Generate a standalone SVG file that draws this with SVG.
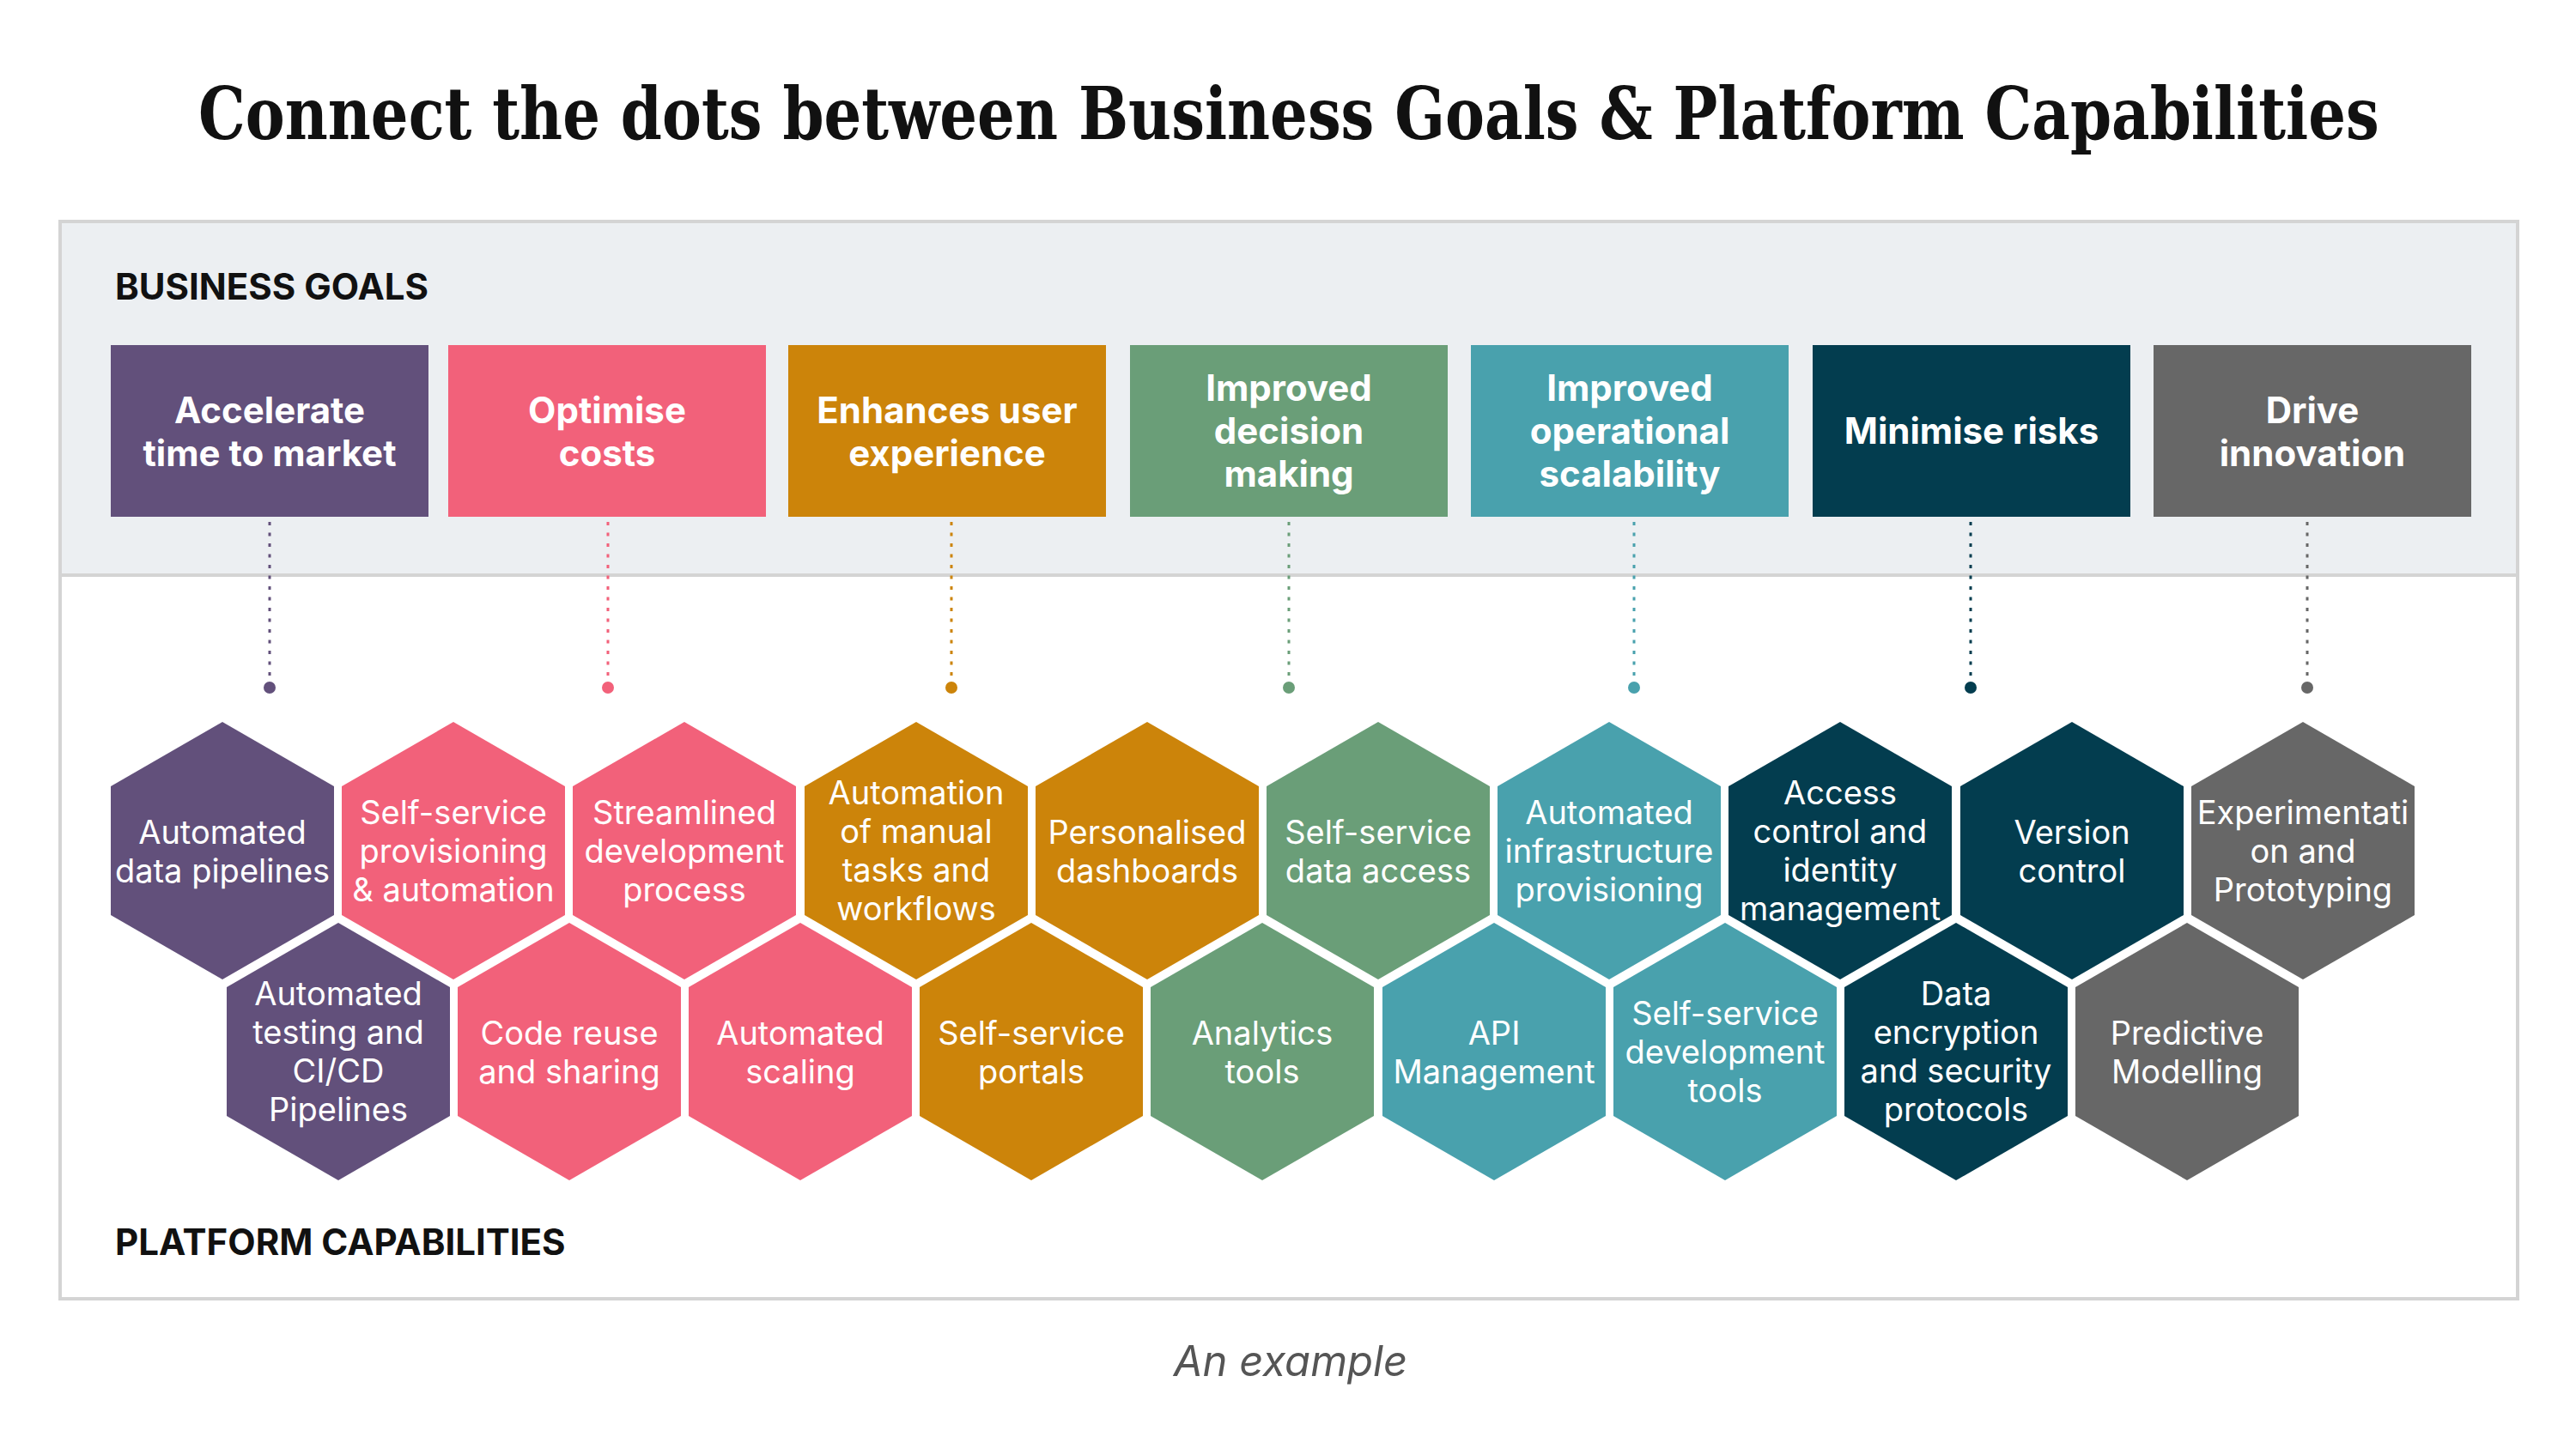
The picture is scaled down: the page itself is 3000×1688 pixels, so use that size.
<svg xmlns="http://www.w3.org/2000/svg" xmlns:xlink="http://www.w3.org/1999/xlink" width="3000" height="1688" viewBox="0 0 3000 1688">
<style>
.title{font-family:"DejaVu Serif","Liberation Serif",serif;font-stretch:condensed;font-weight:700;font-size:84px;fill:#111}
.sec{font-family:Inter,"Liberation Sans",sans-serif;font-weight:700;font-size:42px;fill:#111}
.goal{font-family:Inter,"Liberation Sans",sans-serif;font-weight:700;font-size:42px;fill:#fff;text-anchor:middle}
.cap{font-family:Inter,"Liberation Sans",sans-serif;font-weight:400;font-size:38px;fill:#fff;text-anchor:middle}
.note{font-family:Inter,"Liberation Sans",sans-serif;font-style:italic;font-size:49px;fill:#555;text-anchor:middle}
.c1{fill:#62507B}.c2{fill:#F2617A}.c3{fill:#CC840A}.c4{fill:#6A9E78}.c5{fill:#49A1AD}.c6{fill:#033D4F}.c7{fill:#676767}
.s1{stroke:#62507B}.s2{stroke:#F2617A}.s3{stroke:#CC840A}.s4{stroke:#6A9E78}.s5{stroke:#49A1AD}.s6{stroke:#033D4F}.s7{stroke:#676767}
.dl{stroke-width:3;stroke-dasharray:4 8.5;fill:none}
</style>
<defs>
<path id="hex" d="M0,-150 L130,-75 L130,75 L0,150 L-130,75 L-130,-75 Z"/>
</defs>
<rect width="3000" height="1688" fill="#fff"/>
<text class="title" transform="translate(231,162) scale(0.78,1)" x="0" y="0" textLength="3256" lengthAdjust="spacingAndGlyphs">Connect the dots between Business Goals &amp; Platform Capabilities</text>

<g id="panel">
<rect x="70" y="258" width="2862" height="1255" fill="#fff" stroke="#d4d4d4" stroke-width="4"/>
<rect x="72" y="260" width="2858" height="410" fill="#ECEFF2"/>
<line x1="70" y1="670" x2="2932" y2="670" stroke="#d4d4d4" stroke-width="4"/>
<text class="sec" x="134" y="349">BUSINESS GOALS</text>
<text class="sec" x="134" y="1462">PLATFORM CAPABILITIES</text>
</g>

<g id="goal-1"><rect class="c1" x="129" y="402" width="370" height="200"/><text class="goal" x="314"><tspan x="314" y="493">Accelerate</tspan><tspan x="314" y="543">time to market</tspan></text></g>
<g id="goal-2"><rect class="c2" x="522" y="402" width="370" height="200"/><text class="goal" x="707"><tspan x="707" y="493">Optimise</tspan><tspan x="707" y="543">costs</tspan></text></g>
<g id="goal-3"><rect class="c3" x="918" y="402" width="370" height="200"/><text class="goal" x="1103"><tspan x="1103" y="493">Enhances user</tspan><tspan x="1103" y="543">experience</tspan></text></g>
<g id="goal-4"><rect class="c4" x="1316" y="402" width="370" height="200"/><text class="goal" x="1501"><tspan x="1501" y="467">Improved</tspan><tspan x="1501" y="517">decision</tspan><tspan x="1501" y="567">making</tspan></text></g>
<g id="goal-5"><rect class="c5" x="1713" y="402" width="370" height="200"/><text class="goal" x="1898"><tspan x="1898" y="467">Improved</tspan><tspan x="1898" y="517">operational</tspan><tspan x="1898" y="567">scalability</tspan></text></g>
<g id="goal-6"><rect class="c6" x="2111" y="402" width="370" height="200"/><text class="goal" x="2296" y="517">Minimise risks</text></g>
<g id="goal-7"><rect class="c7" x="2508" y="402" width="370" height="200"/><text class="goal" x="2693"><tspan x="2693" y="493">Drive</tspan><tspan x="2693" y="543">innovation</tspan></text></g>

<g id="connectors">
<line class="dl s1" x1="314" y1="608" x2="314" y2="792"/><circle class="c1" cx="314" cy="801" r="7"/>
<line class="dl s2" x1="708" y1="608" x2="708" y2="792"/><circle class="c2" cx="708" cy="801" r="7"/>
<line class="dl s3" x1="1108" y1="608" x2="1108" y2="792"/><circle class="c3" cx="1108" cy="801" r="7"/>
<line class="dl s4" x1="1501" y1="608" x2="1501" y2="792"/><circle class="c4" cx="1501" cy="801" r="7"/>
<line class="dl s5" x1="1903" y1="608" x2="1903" y2="792"/><circle class="c5" cx="1903" cy="801" r="7"/>
<line class="dl s6" x1="2295" y1="608" x2="2295" y2="792"/><circle class="c6" cx="2295" cy="801" r="7"/>
<line class="dl s7" x1="2687" y1="608" x2="2687" y2="792"/><circle class="c7" cx="2687" cy="801" r="7"/>
</g>

<!-- Row 1: cy=991, cx=259+269.2k -->
<g id="cap-automated-data-pipelines"><use href="#hex" class="c1" x="259" y="991"/><text class="cap"><tspan x="259" y="983">Automated</tspan><tspan x="259" y="1028">data pipelines</tspan></text></g>
<g id="cap-self-service-provisioning"><use href="#hex" class="c2" x="528" y="991"/><text class="cap"><tspan x="528" y="960">Self-service</tspan><tspan x="528" y="1005">provisioning</tspan><tspan x="528" y="1050">&amp; automation</tspan></text></g>
<g id="cap-streamlined"><use href="#hex" class="c2" x="797" y="991"/><text class="cap"><tspan x="797" y="960">Streamlined</tspan><tspan x="797" y="1005">development</tspan><tspan x="797" y="1050">process</tspan></text></g>
<g id="cap-automation-manual"><use href="#hex" class="c3" x="1067" y="991"/><text class="cap"><tspan x="1067" y="937">Automation</tspan><tspan x="1067" y="982">of manual</tspan><tspan x="1067" y="1027">tasks and</tspan><tspan x="1067" y="1072">workflows</tspan></text></g>
<g id="cap-personalised-dashboards"><use href="#hex" class="c3" x="1336" y="991"/><text class="cap"><tspan x="1336" y="983">Personalised</tspan><tspan x="1336" y="1028">dashboards</tspan></text></g>
<g id="cap-self-service-data"><use href="#hex" class="c4" x="1605" y="991"/><text class="cap"><tspan x="1605" y="983">Self-service</tspan><tspan x="1605" y="1028">data access</tspan></text></g>
<g id="cap-automated-infra"><use href="#hex" class="c5" x="1874" y="991"/><text class="cap"><tspan x="1874" y="960">Automated</tspan><tspan x="1874" y="1005">infrastructure</tspan><tspan x="1874" y="1050">provisioning</tspan></text></g>
<g id="cap-access-control"><use href="#hex" class="c6" x="2143" y="991"/><text class="cap"><tspan x="2143" y="937">Access</tspan><tspan x="2143" y="982">control and</tspan><tspan x="2143" y="1027">identity</tspan><tspan x="2143" y="1072">management</tspan></text></g>
<g id="cap-version-control"><use href="#hex" class="c6" x="2413" y="991"/><text class="cap"><tspan x="2413" y="983">Version</tspan><tspan x="2413" y="1028">control</tspan></text></g>
<g id="cap-experimentation"><use href="#hex" class="c7" x="2682" y="991"/><text class="cap"><tspan x="2682" y="960">Experimentati</tspan><tspan x="2682" y="1005">on and</tspan><tspan x="2682" y="1050">Prototyping</tspan></text></g>

<!-- Row 2: cy=1225, cx=393.6+269.2k -->
<g id="cap-automated-testing"><use href="#hex" class="c1" x="394" y="1225"/><text class="cap"><tspan x="394" y="1171">Automated</tspan><tspan x="394" y="1216">testing and</tspan><tspan x="394" y="1261">CI/CD</tspan><tspan x="394" y="1306">Pipelines</tspan></text></g>
<g id="cap-code-reuse"><use href="#hex" class="c2" x="663" y="1225"/><text class="cap"><tspan x="663" y="1217">Code reuse</tspan><tspan x="663" y="1262">and sharing</tspan></text></g>
<g id="cap-automated-scaling"><use href="#hex" class="c2" x="932" y="1225"/><text class="cap"><tspan x="932" y="1217">Automated</tspan><tspan x="932" y="1262">scaling</tspan></text></g>
<g id="cap-self-service-portals"><use href="#hex" class="c3" x="1201" y="1225"/><text class="cap"><tspan x="1201" y="1217">Self-service</tspan><tspan x="1201" y="1262">portals</tspan></text></g>
<g id="cap-analytics-tools"><use href="#hex" class="c4" x="1470" y="1225"/><text class="cap"><tspan x="1470" y="1217">Analytics</tspan><tspan x="1470" y="1262">tools</tspan></text></g>
<g id="cap-api-management"><use href="#hex" class="c5" x="1740" y="1225"/><text class="cap"><tspan x="1740" y="1217">API</tspan><tspan x="1740" y="1262">Management</tspan></text></g>
<g id="cap-self-service-dev-tools"><use href="#hex" class="c5" x="2009" y="1225"/><text class="cap"><tspan x="2009" y="1194">Self-service</tspan><tspan x="2009" y="1239">development</tspan><tspan x="2009" y="1284">tools</tspan></text></g>
<g id="cap-data-encryption"><use href="#hex" class="c6" x="2278" y="1225"/><text class="cap"><tspan x="2278" y="1171">Data</tspan><tspan x="2278" y="1216">encryption</tspan><tspan x="2278" y="1261">and security</tspan><tspan x="2278" y="1306">protocols</tspan></text></g>
<g id="cap-predictive-modelling"><use href="#hex" class="c7" x="2547" y="1225"/><text class="cap"><tspan x="2547" y="1217">Predictive</tspan><tspan x="2547" y="1262">Modelling</tspan></text></g>

<text class="note" x="1503" y="1603">An example</text>
</svg>
